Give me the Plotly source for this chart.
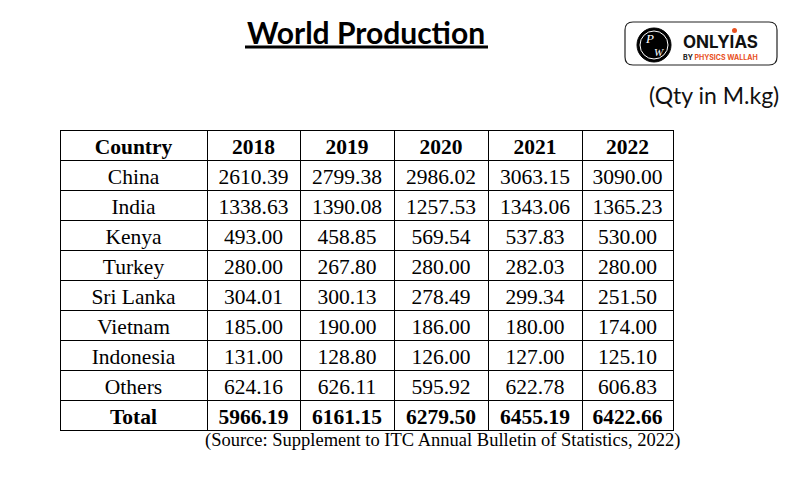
import plotly.graph_objects as go

# The page body has an 8px margin; the figure is sized to fit inside the window
OFF = 8
W, H = 802 - OFF, 483 - 2 * OFF

countries = ["China", "India", "Kenya", "Turkey", "Sri Lanka", "Vietnam", "Indonesia", "Others"]
years = ["2018", "2019", "2020", "2021", "2022"]
v2018 = [2610.39, 1338.63, 493.00, 280.00, 304.01, 185.00, 131.00, 624.16]
v2019 = [2799.38, 1390.08, 458.85, 267.80, 300.13, 190.00, 128.80, 626.11]
v2020 = [2986.02, 1257.53, 569.54, 280.00, 278.49, 186.00, 126.00, 595.92]
v2021 = [3063.15, 1343.06, 537.83, 282.03, 299.34, 180.00, 127.00, 622.78]
v2022 = [3090.00, 1365.23, 530.00, 280.00, 251.50, 174.00, 125.10, 606.83]
totals = [5966.19, 6161.15, 6279.50, 6455.19, 6422.66]

series = [v2018, v2019, v2020, v2021, v2022]

cols = [countries]
for s in series:
    cols.append([f"{v:.2f}" for v in s])
total_row = ["Total"] + [f"{t:.2f}" for t in totals]


def px(x):
    return (x - OFF) / W


def py(y):
    return 1 - (y - OFF) / H


serif = "Liberation Serif"
FS = 21.5
CW = [147, 93, 94, 94, 94, 91]

fig = go.Figure()
fig.add_trace(go.Table(
    domain=dict(x=[px(60), px(673)], y=[py(420), py(130)]),
    columnwidth=CW,
    header=dict(
        values=["Country"] + years,
        align="center",
        height=30,
        line=dict(color="black", width=1),
        fill=dict(color="white"),
        font=dict(family=serif, size=FS, color="black", weight="bold"),
    ),
    cells=dict(
        values=cols,
        align="center",
        height=30,
        line=dict(color="black", width=1),
        fill=dict(color="white"),
        font=dict(family=serif, size=FS, color="black"),
    ),
))
# Total row (bold), drawn as its own one-row table right below
fig.add_trace(go.Table(
    domain=dict(x=[px(60), px(673)], y=[py(440), py(400)]),
    columnwidth=CW,
    header=dict(
        values=total_row,
        align="center",
        height=30,
        line=dict(color="black", width=1),
        fill=dict(color="white"),
        font=dict(family=serif, size=FS, color="black", weight="bold"),
    ),
    cells=dict(values=[], height=30, fill=dict(color="white"),
               line=dict(color="white", width=0)),
))

shapes = [
    # title underline
    dict(type="line", xref="paper", yref="paper", x0=px(245), x1=px(488),
         y0=py(47), y1=py(47), line=dict(color="black", width=3)),
    # logo rounded box
    dict(type="path", xref="paper", yref="paper",
         path=(f"M {px(633)} {py(22)} L {px(769)} {py(22)} "
               f"Q {px(777)} {py(22)} {px(777)} {py(30)} L {px(777)} {py(57)} "
               f"Q {px(777)} {py(65)} {px(769)} {py(65)} L {px(633)} {py(65)} "
               f"Q {px(625)} {py(65)} {px(625)} {py(57)} L {px(625)} {py(30)} "
               f"Q {px(625)} {py(22)} {px(633)} {py(22)} Z"),
         line=dict(color="#222222", width=1.2), fillcolor="white"),
    # PW circle
    dict(type="circle", xref="paper", yref="paper",
         x0=px(637), x1=px(671), y0=py(28), y1=py(62),
         line=dict(color="black", width=1), fillcolor="black"),
    dict(type="circle", xref="paper", yref="paper",
         x0=px(640), x1=px(668), y0=py(31), y1=py(59),
         line=dict(color="white", width=1), fillcolor="black"),
    # orange dot
    dict(type="circle", xref="paper", yref="paper",
         x0=px(732), x1=px(737), y0=py(28), y1=py(33),
         line=dict(width=0), fillcolor="#e8501e"),
]

annotations = [
    dict(text="<b>World Production</b>", x=px(366), y=py(32), xref="paper", yref="paper",
         showarrow=False, font=dict(family="Lato", size=30, color="black"),
         xanchor="center", yanchor="middle"),
    dict(text="(Qty in M.kg)", x=px(781), y=py(95), xref="paper", yref="paper",
         showarrow=False, font=dict(family="Lato", size=23, color="#111111"),
         xanchor="right", yanchor="middle"),
    dict(text="(Source: Supplement to ITC Annual Bulletin of Statistics, 2022)",
         x=px(682), y=py(440), xref="paper", yref="paper",
         showarrow=False, font=dict(family=serif, size=18.5, color="black"),
         xanchor="right", yanchor="middle"),
    dict(text="<i>P</i>", x=px(649), y=py(38), xref="paper", yref="paper",
         showarrow=False, font=dict(family=serif, size=13, color="white"),
         xanchor="center", yanchor="middle"),
    dict(text="<i>W</i>", x=px(659), y=py(52), xref="paper", yref="paper",
         showarrow=False, font=dict(family=serif, size=11, color="white"),
         xanchor="center", yanchor="middle"),
    dict(text="<b>ONLYIAS</b>", x=px(720), y=py(42), xref="paper", yref="paper",
         showarrow=False, font=dict(family="Inter", size=17, color="#111111"),
         xanchor="center", yanchor="middle"),
    dict(text="<b>BY <span style='color:#e8501e'>PHYSICS WALLAH</span></b>",
         x=px(720), y=py(57), xref="paper", yref="paper",
         showarrow=False, font=dict(family="Inter", size=7, color="#111111"),
         xanchor="center", yanchor="middle"),
]

fig.update_layout(
    width=W, height=H,
    margin=dict(l=0, r=0, t=0, b=0),
    paper_bgcolor="white",
    plot_bgcolor="white",
    shapes=shapes,
    annotations=annotations,
    showlegend=False,
)

fig.write_html("out.html")
